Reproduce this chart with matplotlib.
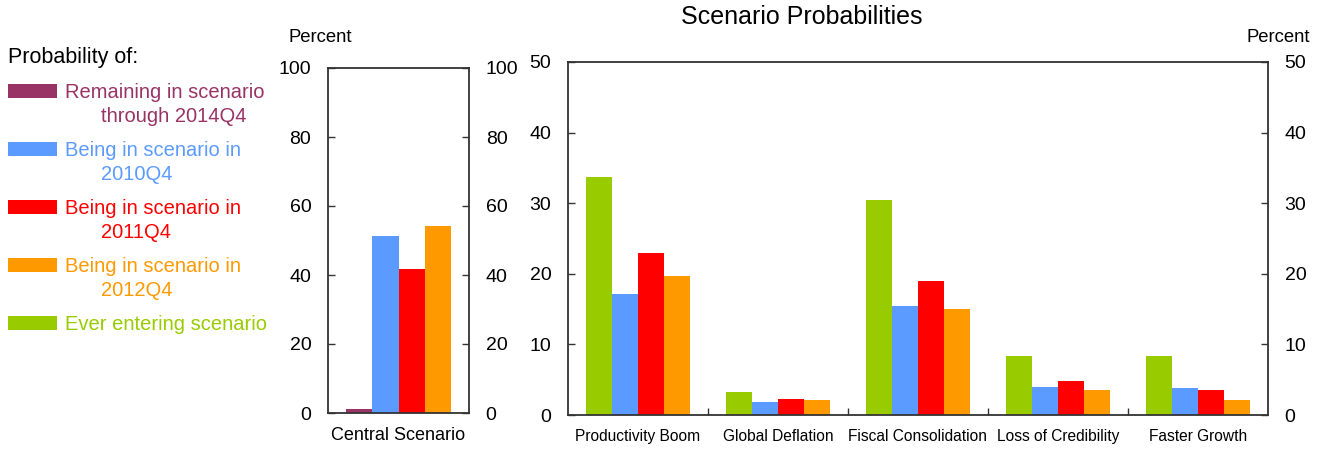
import matplotlib
matplotlib.use("Agg")
import matplotlib.pyplot as plt
from matplotlib.patches import Rectangle

plt.rcParams['font.family'] = ['Liberation Sans', 'DejaVu Sans']

# ---------------------------------------------------------
# Data
# ---------------------------------------------------------
central_label = "Central Scenario"
central_series = ["Remaining in scenario through 2014Q4",
                  "Being in scenario in 2010Q4",
                  "Being in scenario in 2011Q4",
                  "Being in scenario in 2012Q4"]
central_values = [1.3, 51.2, 41.6, 54.3]

scenarios = ["Productivity Boom", "Global Deflation", "Fiscal Consolidation",
             "Loss of Credibility", "Faster Growth"]
ever_entering = [33.7, 3.3, 30.4, 8.3, 8.3]
in_2010q4 = [17.2, 1.8, 15.4, 4.0, 3.8]
in_2011q4 = [22.9, 2.3, 19.0, 4.8, 3.6]
in_2012q4 = [19.7, 2.1, 15.0, 3.6, 2.1]

legend_lines = [["Remaining in scenario", "through 2014Q4"],
                ["Being in scenario in", "2010Q4"],
                ["Being in scenario in", "2011Q4"],
                ["Being in scenario in", "2012Q4"],
                ["Ever entering scenario"]]

MAROON = "#993366"
BLUE = "#5B9BFF"
RED = "#FF0000"
ORANGE = "#FF9900"
GREEN = "#99CC00"
SPINE = "#333333"

W, H = 1325, 450


def fx(px):
    return px / W


def fy(py):
    return 1 - py / H


fig = plt.figure(figsize=(W / 100, H / 100), dpi=100)

# ---------------------------------------------------------
# Left panel: central scenario
# ---------------------------------------------------------
ax1 = fig.add_axes([fx(328), fy(413), fx(469) - fx(328), fy(68) - fy(413)])
bw = 0.185
cols_c = [MAROON, BLUE, RED, ORANGE]
for i, (v, c) in enumerate(zip(central_values, cols_c)):
    ax1.bar((i - 1.5) * bw, v, width=bw, color=c, linewidth=0)
ax1.set_xlim(-0.5, 0.5)
ax1.set_ylim(0, 100)
ax1.set_yticks([0, 20, 40, 60, 80, 100])
ax1.set_xticks([0])
ax1.set_xticklabels([central_label], fontsize=13)
ax1.tick_params(axis='x', length=0, pad=10)
ax1.tick_params(axis='y', direction='in', length=5, width=1, color=SPINE,
                labelsize=14, left=True, right=True, labelleft=True,
                labelright=True, pad=12)
for s in ax1.spines.values():
    s.set_color(SPINE)
    s.set_linewidth(1.3)
fig.text(fx(288), fy(37), "Percent", fontsize=13.3, va='center', ha='left')

# ---------------------------------------------------------
# Right panel: alternative scenarios
# ---------------------------------------------------------
ax2 = fig.add_axes([fx(568), fy(415), fx(1268) - fx(568), fy(62) - fy(415)])
x = list(range(len(scenarios)))
series = [ever_entering, in_2010q4, in_2011q4, in_2012q4]
cols = [GREEN, BLUE, RED, ORANGE]
for j, (vals, c) in enumerate(zip(series, cols)):
    ax2.bar([xi + (j - 1.5) * bw for xi in x], vals, width=bw, color=c, linewidth=0)
ax2.set_xlim(-0.5, len(scenarios) - 0.5)
ax2.set_ylim(0, 50)
ax2.set_yticks([0, 10, 20, 30, 40, 50])
ax2.set_xticks(x)
ax2.set_xticklabels(scenarios, fontsize=11.2)
ax2.set_xticks([xi + 0.5 for xi in x[:-1]], minor=True)
ax2.tick_params(axis='x', which='major', length=0, pad=10)
ax2.tick_params(axis='x', which='minor', direction='in', length=5, width=1, color=SPINE)
ax2.tick_params(axis='y', direction='in', length=5, width=1, color=SPINE,
                labelsize=14, left=True, right=True, labelleft=True,
                labelright=True, pad=12)
for s in ax2.spines.values():
    s.set_color(SPINE)
    s.set_linewidth(1.3)
fig.text(fx(1310), fy(37), "Percent", fontsize=13.3, va='center', ha='right')
fig.text(fx(802), fy(17), "Scenario Probabilities", fontsize=18,
         ha='center', va='center')

# ---------------------------------------------------------
# Legend (drawn by hand, text in series colours)
# ---------------------------------------------------------
fig.text(fx(8), fy(57), "Probability of:", fontsize=15.5, ha='left', va='center')
leg_cols = [MAROON, BLUE, RED, ORANGE, GREEN]
for k, (lines, c) in enumerate(zip(legend_lines, leg_cols)):
    top = 91 + k * 58
    fig.patches.append(Rectangle((fx(8), fy(top + 7)), fx(57) - fx(8), fy(top - 7) - fy(top + 7),
                                 transform=fig.transFigure, color=c, linewidth=0))
    fig.text(fx(65), fy(top + 2), lines[0], fontsize=14.5, color=c, ha='left', va='center')
    if len(lines) > 1:
        fig.text(fx(101), fy(top + 25), lines[1], fontsize=14.5, color=c, ha='left', va='center')

fig.savefig("out.png", dpi=100)
